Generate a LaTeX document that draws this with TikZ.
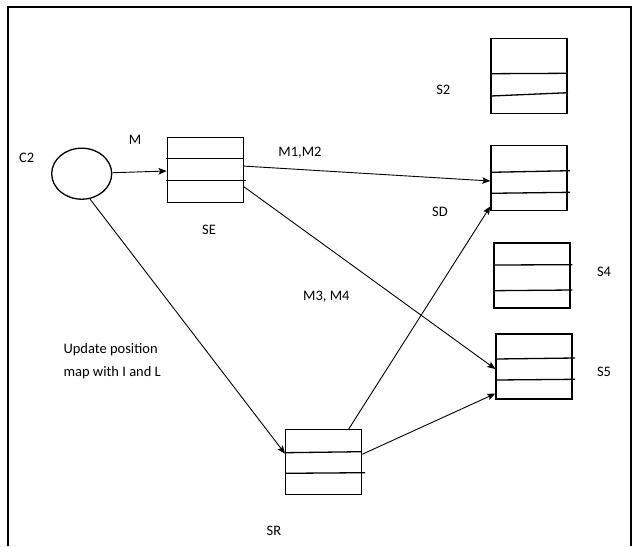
\documentclass[tikz,border=0pt]{standalone}
\usepackage{fontspec}
\setmainfont{Carlito}
\usepackage{tikz}
\usetikzlibrary{positioning,arrows.meta,shapes.geometric}

\tikzset{
  stack/.style={draw, line width=1.3pt, minimum width=76pt, minimum height=65pt, inner sep=0pt},
  lbl/.style={font=\fontsize{14.5}{23}\selectfont, inner sep=0pt, anchor=base},
  link/.style={->, line width=0.9pt},
  divider/.style={line width=1.3pt}
}

\begin{document}
\begin{tikzpicture}[x=1pt, y=-1pt, >={Stealth[length=8pt, width=6.5pt, inset=1.5pt]}]
\useasboundingbox (0,0) rectangle (634,546);
\draw[line width=2pt] (8,546) -- (8,7) -- (631,7) -- (631,546);

\node[draw, ellipse, line width=1.3pt, minimum width=60pt, minimum height=51pt, inner sep=0pt] (C2) at (81.7,173.7) {};

\node[stack] (SE) at (205.3,169.8) {};
\node[stack, minimum height=75pt] (S2) at (529,75.8) {};
\node[stack] (SD) at (529,178.2) {};
\node[stack] (S4) at (532,275.5) {};
\node[stack] (S5) at (534,366.4) {};
\node[stack] (SR) at (323.7,462.2) {};

% row lines inside the stacks
\foreach \xa/\ya/\xb/\yb in {165.7/158.3/243.3/158.3, 165.7/180.3/245.7/180.3,
    491/73.7/567/73.3, 491/96/568/92.7,
    491/172.3/570/170.7, 491/193.3/570/192.3,
    494/265/572.3/264.7, 493.3/290.7/572.3/290,
    496/359/575/358, 496/380/575/379.3,
    285.7/452.7/361.7/451.7, 285.7/473.3/365/472.7}
  \draw[divider] (\xa,\ya) -- (\xb,\yb);

\node[lbl] (lab_c2) at (26.7,162) {C2};
\node[lbl] (lab_m) at (135,144) {M};
\node[lbl] (lab_se) at (209,234) {SE};
\node[lbl] (lab_m12) at (300,156.7) {M1,M2};
\node[lbl] (lab_sd) at (440,216.4) {SD};
\node[lbl] (lab_s2) at (443.3,94.7) {S2};
\node[lbl] (lab_m34) at (326.3,300.7) {M3, M4};
\node[lbl] (lab_s4) at (604,276.4) {S4};
\node[lbl] (lab_s5) at (604,376.4) {S5};
\node[lbl] (lab_sr) at (274,535.5) {SR};
\node[lbl, anchor=base west, align=left] (lab_upd) at (63.3,376) {Update position\\map with I and L};

\draw[link] (C2) -- (SE);
\draw[link] ([yshift=3.7pt]SE.east) -- ([yshift=-2.8pt]SD.west);
\draw[link] ([yshift=-17pt]SE.east) -- ([yshift=-2.6pt]S5.west);
\draw[link] (C2.-72) -- ([yshift=8.5pt]SR.west);
\draw[link] ([xshift=25pt]SR.north) -- ([yshift=5pt]SD.south west);
\draw[link] ([yshift=8pt]SR.east) -- ([yshift=6pt]S5.south west);

\end{tikzpicture}
\end{document}
